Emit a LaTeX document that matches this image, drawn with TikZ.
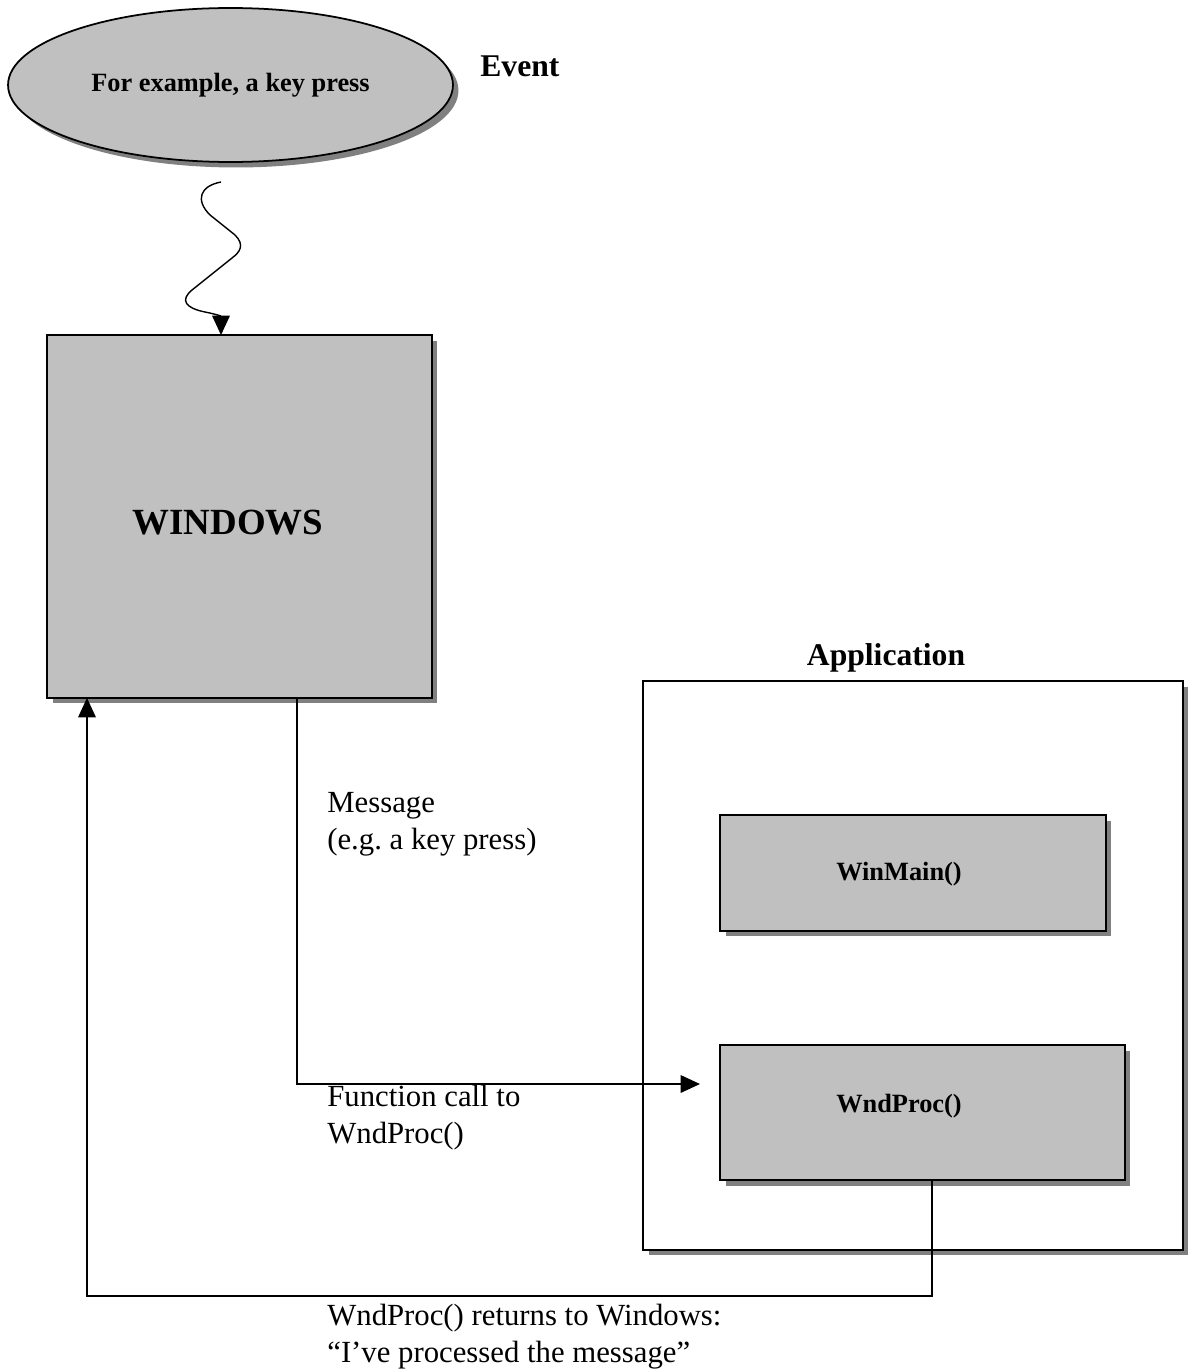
\documentclass[tikz,border=0pt]{standalone}
\usepackage{fontspec}
\setmainfont{Liberation Serif}
\usetikzlibrary{shapes.geometric,shadows,arrows.meta}
\definecolor{boxgray}{HTML}{C0C0C0}
\definecolor{shadegray}{HTML}{808080}
\frenchspacing

\begin{document}
\begin{tikzpicture}[x=0.02cm,y=-0.02cm,
	shade/.style={drop shadow={shadow xshift=0.11cm,shadow yshift=-0.11cm,fill=shadegray,opacity=1}},
	graybox/.style={draw,line width=1pt,fill=boxgray,shade,inner sep=0,outer sep=0},
	tip/.style={-{Triangle[length=11pt,width=10pt]}},
	wire/.style={line width=0.8pt},
	boxtxt/.style={inner sep=0,font=\fontsize{15}{18}\selectfont\bfseries},
	lbl/.style={align=left,inner sep=0,font=\fontsize{17.5}{21}\selectfont}]
	\useasboundingbox (0,0) rectangle (1189,1372);
	\node[graybox,ellipse,minimum width=8.9cm,minimum height=3.08cm,font=\fontsize{15}{18}\selectfont\bfseries] (ev) at (230.5,85) {For example, a key press};
	\node[anchor=base west,inner sep=0,font=\fontsize{18}{21}\selectfont\bfseries] (evlbl) at (480,77) {Event};
	\node[graybox,minimum width=7.7cm,minimum height=7.26cm] (win) at (239.5,516.5) {};
	\node[inner sep=0,font=\fontsize{21}{25}\selectfont\bfseries] (wintxt) at (228,523) {WINDOWS};
	\node[draw,line width=1pt,fill=white,shade,inner sep=0,outer sep=0,minimum width=10.8cm,minimum height=11.38cm] (app) at (913,965.5) {};
	\node[anchor=base,inner sep=0,font=\fontsize{18}{21}\selectfont\bfseries] (applbl) at (886,665) {Application};
	\node[graybox,minimum width=7.72cm,minimum height=2.32cm] (wmain) at (913,873) {};
	\node[boxtxt] (wmaintxt) at (899,874) {WinMain()};
	\node[graybox,minimum width=8.1cm,minimum height=2.7cm] (wnd) at (922.5,1112.5) {};
	\node[boxtxt] (wndtxt) at (899,1106) {WndProc()};
	% event goes into windows
	\coordinate (evtail) at (221,182);
	\draw[wire,tip] (evtail) .. controls (200,186) and (195,200) .. (210,215) -- (235,235)
		.. controls (245,245) and (240,252) .. (232,258) -- (192,290)
		.. controls (180,300) and (185,308) .. (205,312)
		.. controls (215,314) and (221,316) .. (win.north -| evtail);
	% message to wndproc
	\coordinate (msgx) at (297,0);
	\coordinate (callend) at (700,1084);
	\draw[wire,tip] (win.south -| msgx) |- (callend);
	\node[lbl,anchor=base west] (msglbl) at (327,849) {Message\\(e.g. a key press)};
	\node[lbl,anchor=base west] (calllbl) at (327,1143) {Function call to\\WndProc()};
	% return to windows
	\coordinate (retx) at (932,0);
	\coordinate (low) at (87,1296);
	\draw[wire,tip] (wnd.south -| retx) |- (low) -- (win.south -| low);
	\node[lbl,anchor=base west] (retlbl) at (327,1362) {WndProc() returns to Windows:\\“I’ve processed the message”};
\end{tikzpicture}
\end{document}
